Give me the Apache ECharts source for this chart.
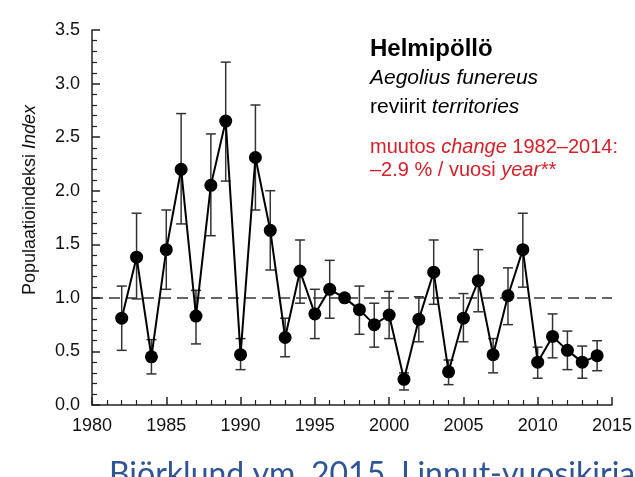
<!DOCTYPE html>
<html>
<head>
<meta charset="utf-8">
<script src="https://cdn.jsdelivr.net/npm/echarts@6/dist/echarts.min.js"></script>
<style>
html,body{margin:0;padding:0;background:#fff;}
#chart{width:635px;height:477px;}
</style>
</head>
<body>
<div id="chart"></div>
<script>
const years = [1982,1983,1984,1985,1986,1987,1988,1989,1990,1991,1992,1993,1994,1995,1996,1997,1998,1999,2000,2001,2002,2003,2004,2005,2006,2007,2008,2009,2010,2011,2012,2013,2014];
const indexValues = [0.81,1.38,0.45,1.45,2.20,0.83,2.05,2.65,0.47,2.31,1.63,0.63,1.25,0.85,1.08,1.00,0.89,0.75,0.84,0.24,0.80,1.24,0.31,0.81,1.16,0.47,1.02,1.45,0.40,0.64,0.51,0.40,0.46];
const upperCI = [1.11,1.79,0.61,1.82,2.72,1.07,2.53,3.20,0.62,2.80,2.00,0.81,1.54,1.08,1.35,null,1.11,0.95,1.06,0.30,1.01,1.54,0.42,1.04,1.45,0.62,1.28,1.79,0.54,0.85,0.69,0.55,0.60];
const lowerCI = [0.51,0.99,0.29,1.08,1.69,0.57,1.58,2.09,0.33,1.82,1.26,0.45,0.95,0.62,0.81,null,0.66,0.54,0.62,0.14,0.59,0.94,0.19,0.59,0.87,0.30,0.75,1.10,0.25,0.44,0.33,0.25,0.32];
const referenceLevel = 1.0;
const xMin = 1980, xMax = 2015, xStep = 5;
const yMin = 0, yMax = 3.5, yStep = 0.5;

const lineData = years.map((y, i) => [y, indexValues[i]]);
const errData = years.map((y, i) => [y, lowerCI[i], upperCI[i]]).filter(d => d[1] != null);

const chart = echarts.init(document.getElementById('chart'), null, {renderer: 'canvas'});
const FF = 'Liberation Sans, Arial, sans-serif';
const axisFont = {fontFamily: FF, fontSize: 18, color: '#111'};
const RED = '#d81e28';

chart.setOption({
  animation: false,
  backgroundColor: '#fff',
  grid: {left: 92, right: 23, top: 30, bottom: 72},
  xAxis: {
    type: 'value', min: xMin, max: xMax, interval: xStep,
    axisLine: {lineStyle: {color: '#222', width: 1.5}},
    axisTick: {inside: true, length: 8, lineStyle: {color: '#222', width: 1.5}},
    minorTick: {show: true, splitNumber: 5, length: 5, lineStyle: {color: '#222', width: 1.2}},
    splitLine: {show: false},
    axisLabel: Object.assign({margin: 12, formatter: v => String(v)}, axisFont)
  },
  yAxis: {
    type: 'value', min: yMin, max: yMax, interval: yStep,
    axisLine: {show: true, lineStyle: {color: '#222', width: 1.5}},
    axisTick: {show: true, inside: true, length: 8, lineStyle: {color: '#222', width: 1.5}},
    minorTick: {show: true, splitNumber: 5, length: 5, lineStyle: {color: '#222', width: 1.2}},
    splitLine: {show: false},
    axisLabel: Object.assign({margin: 12, formatter: v => v.toFixed(1)}, axisFont)
  },
  series: [
    {
      type: 'custom',
      data: errData,
      z: 1,
      renderItem: function (params, api) {
        const x = api.value(0);
        const lo = api.coord([x, api.value(1)]);
        const hi = api.coord([x, api.value(2)]);
        const w = 5;
        const st = {stroke: '#333', lineWidth: 1.5, fill: null};
        return {
          type: 'group',
          children: [
            {type: 'line', shape: {x1: lo[0], y1: lo[1], x2: hi[0], y2: hi[1]}, style: st},
            {type: 'line', shape: {x1: hi[0] - w, y1: hi[1], x2: hi[0] + w, y2: hi[1]}, style: st},
            {type: 'line', shape: {x1: lo[0] - w, y1: lo[1], x2: lo[0] + w, y2: lo[1]}, style: st}
          ]
        };
      }
    },
    {
      type: 'line',
      data: lineData,
      z: 3,
      symbol: 'circle',
      symbolSize: 13,
      showAllSymbol: true,
      lineStyle: {color: '#000', width: 2},
      itemStyle: {color: '#000'},
      markLine: {
        silent: true,
        symbol: 'none',
        label: {show: false},
        lineStyle: {color: '#666', type: [11, 6], width: 2},
        data: [{yAxis: referenceLevel}],
        z: 0
      }
    }
  ],
  graphic: [
    {
      type: 'text', x: 30, y: 200, rotation: Math.PI / 2,
      style: {
        text: '{n|Populaatioindeksi }{i|Index}',
        align: 'center', verticalAlign: 'middle',
        rich: {
          n: {fontFamily: FF, fontSize: 18, fill: '#111', color: '#111'},
          i: {fontFamily: FF, fontSize: 18, fontStyle: 'italic', fill: '#111', color: '#111'}
        }
      }
    },
    {
      type: 'text', left: 370, top: 37,
      style: {text: 'Helmipöllö', fontFamily: FF, fontWeight: 'bold', fontSize: 24, fill: '#000'}
    },
    {
      type: 'text', left: 370, top: 68,
      style: {text: 'Aegolius funereus', fontFamily: FF, fontStyle: 'italic', fontSize: 21, fill: '#000'}
    },
    {
      type: 'text', left: 370, top: 97,
      style: {
        text: '{n|reviirit }{i|territories}',
        rich: {
          n: {fontFamily: FF, fontSize: 21, fill: '#000', color: '#000'},
          i: {fontFamily: FF, fontSize: 21, fontStyle: 'italic', fill: '#000', color: '#000'}
        }
      }
    },
    {
      type: 'text', left: 370, top: 137,
      style: {
        text: '{n|muutos }{i|change}{n| 1982–2014:}',
        rich: {
          n: {fontFamily: FF, fontSize: 20, fill: RED, color: RED},
          i: {fontFamily: FF, fontSize: 20, fontStyle: 'italic', fill: RED, color: RED}
        }
      }
    },
    {
      type: 'text', left: 370, top: 160,
      style: {
        text: '{n|–2.9 % / vuosi }{i|year**}',
        rich: {
          n: {fontFamily: FF, fontSize: 20, fill: RED, color: RED},
          i: {fontFamily: FF, fontSize: 20, fontStyle: 'italic', fill: RED, color: RED}
        }
      }
    },
    {
      type: 'text', left: 109, top: 459,
      style: {text: 'Björklund ym. 2015. Linnut-vuosikirja', fontFamily: 'Lato, Open Sans, sans-serif', fontSize: 32, fill: '#2f5597'}
    }
  ]
});
</script>
</body>
</html>
